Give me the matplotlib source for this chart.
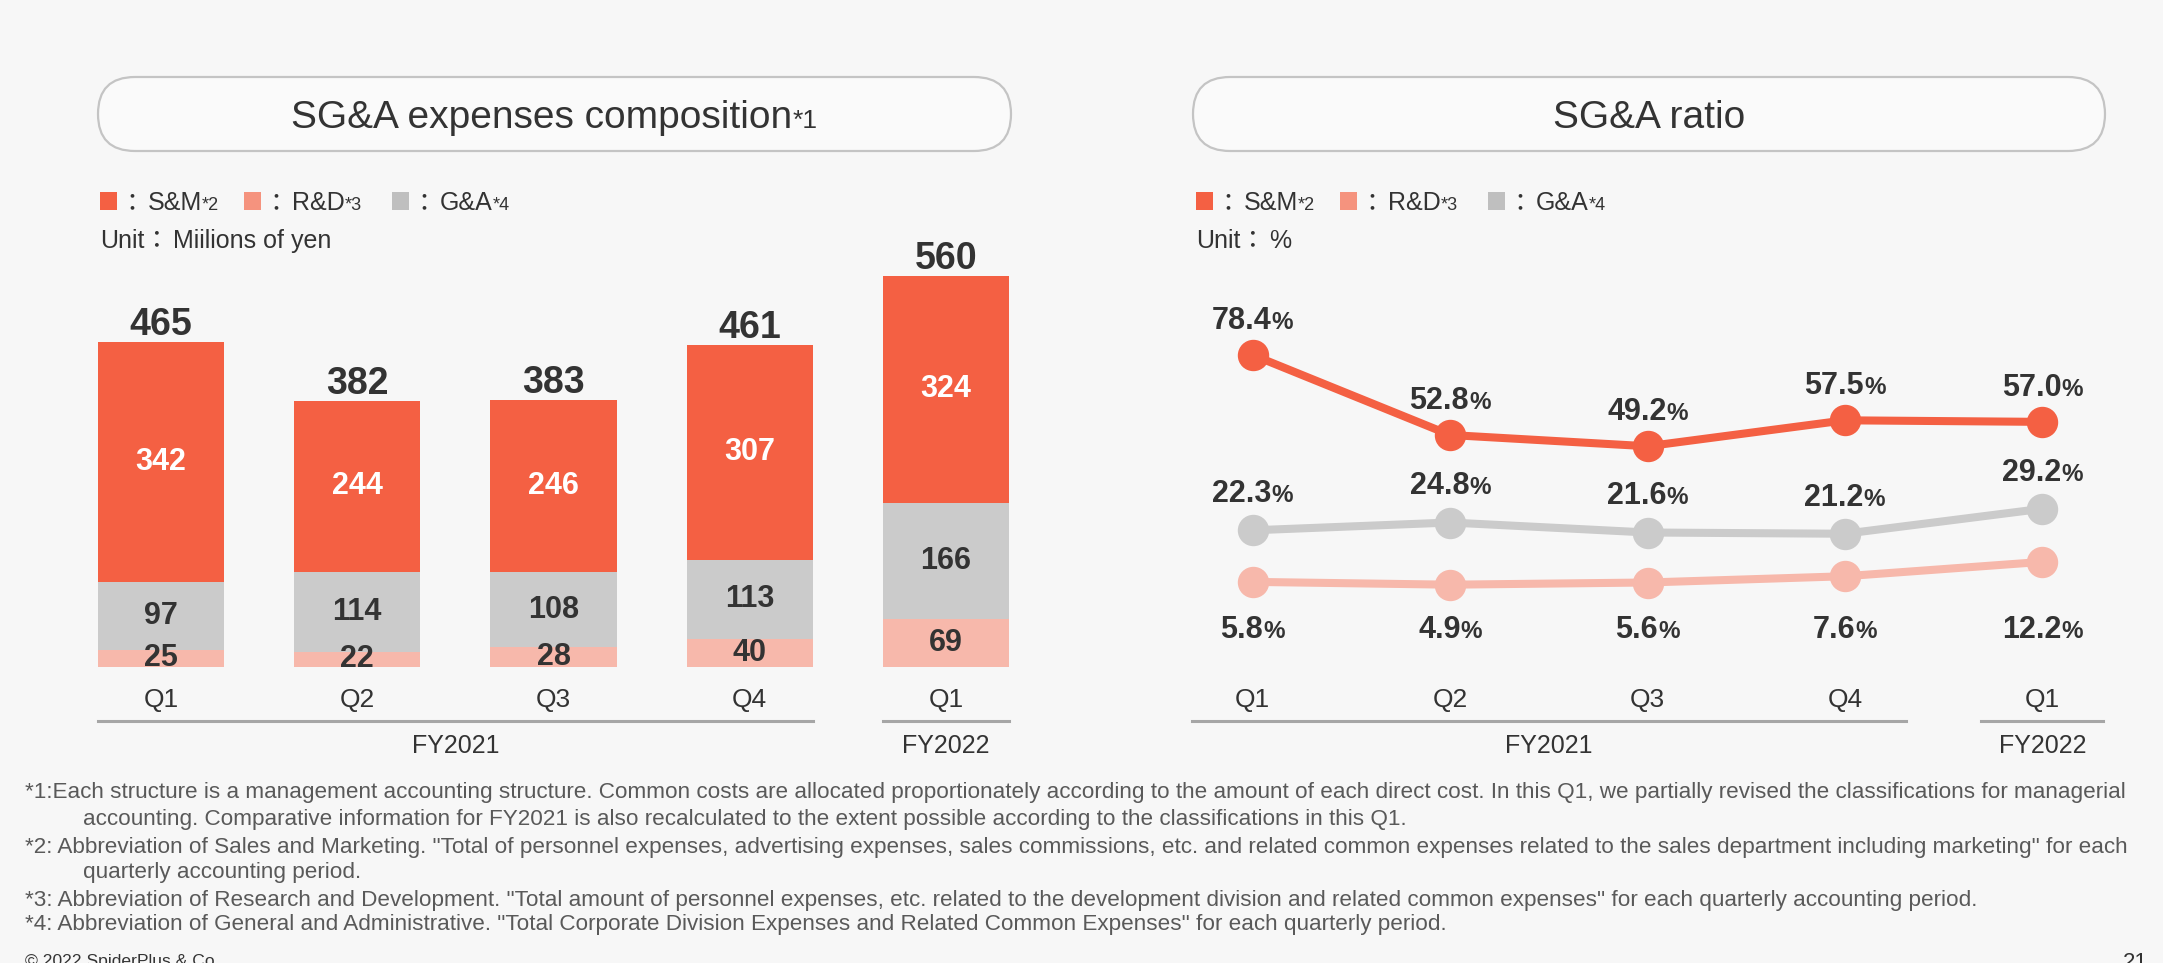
import matplotlib
matplotlib.use('Agg')
import matplotlib.pyplot as plt
from matplotlib.patches import FancyBboxPatch, Rectangle
from matplotlib.lines import Line2D
from matplotlib.transforms import ScaledTranslation, blended_transform_factory

# ---- data ----
quarters = ['Q1', 'Q2', 'Q3', 'Q4', 'Q1']
fiscal_years = ['FY2021', 'FY2022']
fy_spans = [(0, 3), (4, 4)]
sm_cost = [342, 244, 246, 307, 324]
ga_cost = [97, 114, 108, 113, 166]
rd_cost = [25, 22, 28, 40, 69]
total_cost = [465, 382, 383, 461, 560]
sm_ratio = [78.4, 52.8, 49.2, 57.5, 57.0]
ga_ratio = [22.3, 24.8, 21.6, 21.2, 29.2]
rd_ratio = [5.8, 4.9, 5.6, 7.6, 12.2]
legend_items = [('S&M', '*2'), ('R&D', '*3'), ('G&A', '*4')]
footnotes = [
    (25, '*1:Each structure is a management accounting structure. Common costs are allocated proportionately according to the amount of each direct cost. In this Q1, we partially revised the classifications for managerial'),
    (83, 'accounting. Comparative information for FY2021 is also recalculated to the extent possible according to the classifications in this Q1.'),
    (25, '*2: Abbreviation of Sales and Marketing. "Total of personnel expenses, advertising expenses, sales commissions, etc. and related common expenses related to the sales department including marketing" for each'),
    (83, 'quarterly accounting period.'),
    (25, '*3: Abbreviation of Research and Development. "Total amount of personnel expenses, etc. related to the development division and related common expenses" for each quarterly accounting period.'),
    (25, '*4: Abbreviation of General and Administrative. "Total Corporate Division Expenses and Related Common Expenses" for each quarterly period.'),
]

W, H, DPI = 2163, 963, 100
BG = '#f7f7f7'
ORANGE = '#f46043'
PINK = '#f7b8ab'
PINK_KEY = '#f5937e'
GRAY = '#cbcbcb'
GRAY_KEY = '#bfbfbf'
DARK = '#333333'
plt.rcParams['font.family'] = ['Liberation Sans', 'Noto Sans CJK JP', 'DejaVu Sans']

fig = plt.figure(figsize=(W / DPI, H / DPI), dpi=DPI, facecolor=BG)
renderer = fig.canvas.get_renderer()


def fx(x):
    return x / W


def fy(y):  # pixels from top -> figure fraction
    return 1 - y / H


def rich(x, y, parts, transform, ha='center', dy=0):
    objs = [fig.text(x, y, s, transform=transform, ha='left', va='baseline', **kw) for s, kw in parts]
    widths = [t.get_window_extent(renderer).width for t in objs]
    off = {'left': 0, 'center': -sum(widths) / 2, 'right': -sum(widths)}[ha]
    for t, w in zip(objs, widths):
        t.set_transform(transform + ScaledTranslation(off / DPI, dy / DPI, fig.dpi_scale_trans))
        off += w
    return objs


def title_box(x0, x1, y0, y1, parts):
    h = (y1 - y0) / DPI
    box = FancyBboxPatch((x0 / DPI, (H - y1) / DPI), (x1 - x0) / DPI, h,
                         boxstyle='round,pad=0,rounding_size=%f' % (h / 2),
                         transform=fig.dpi_scale_trans, facecolor='#fafafa',
                         edgecolor='#c4c4c4', lw=1.6)
    fig.add_artist(box)
    rich(fx((x0 + x1) / 2), fy(128), parts, fig.transFigure)


def legend(x_list, unit):
    gap = (' ', dict(size=10))
    for (name, mark), x, col in zip(legend_items, x_list, [ORANGE, PINK_KEY, GRAY_KEY]):
        fig.add_artist(Rectangle((fx(x), fy(210)), 17 / W, 18 / H, transform=fig.transFigure,
                                 facecolor=col, edgecolor='none'))
        rich(fx(x + 19), fy(210), [('：', dict(size=18, color=DARK)), gap,
                                   (name, dict(size=18, color=DARK)),
                                   (mark, dict(size=13, color=DARK))],
             fig.transFigure, ha='left')
    rich(fx(x_list[0]), fy(248), [('Unit：', dict(size=18, color=DARK)), gap,
                                  (unit, dict(size=18, color=DARK))],
         fig.transFigure, ha='left')


def add_ax(left, right, bottom_px, ylim, ppu):
    height = (ylim[1] - ylim[0]) * ppu
    ax = fig.add_axes([fx(left), fy(bottom_px), (right - left) / W, height / H])
    ax.set_xlim(-0.5, 4.5)
    ax.set_ylim(*ylim)
    ax.axis('off')
    return ax


def groups(ax, half):
    tr = blended_transform_factory(ax.transData, fig.transFigure)
    for i, q in enumerate(quarters):
        ax.text(i, fy(700), q, transform=tr, ha='center', va='center', size=19, color=DARK)
    for name, (a, b) in zip(fiscal_years, fy_spans):
        fig.add_artist(Line2D([a - half, b + half], [fy(721), fy(721)], transform=tr,
                              color='#a6a6a6', lw=2.2))
        ax.text((a + b) / 2, fy(746), name, transform=tr, ha='center', va='center',
                size=18, color=DARK)


# ---- left: SG&A expenses composition ----
title_box(98, 1011, 77, 151, [('SG&A expenses composition', dict(size=28, color=DARK)),
                              ('*1', dict(size=19, color=DARK))])
legend([100, 244, 392], 'Miilions of yen')

ax1 = add_ax(63, 1044, 667, (0, 620), 0.7)
x = list(range(len(quarters)))
bw = 0.643
bot2 = rd_cost
bot3 = [a + b for a, b in zip(rd_cost, ga_cost)]
ax1.bar(x, rd_cost, bw, color=PINK)
ax1.bar(x, ga_cost, bw, bottom=bot2, color=GRAY)
ax1.bar(x, sm_cost, bw, bottom=bot3, color=ORANGE)
for i in x:
    top = bot3[i] + sm_cost[i]
    ax1.annotate(str(total_cost[i]), (i, top), xytext=(0, 7), textcoords='offset pixels',
                 ha='center', va='baseline', size=27, weight='bold', color=DARK)
    ax1.text(i, bot3[i] + sm_cost[i] / 2, str(sm_cost[i]), ha='center', va='center',
             size=22, weight='bold', color='white')
    ax1.text(i, bot2[i] + ga_cost[i] / 2, str(ga_cost[i]), ha='center', va='center',
             size=22, weight='bold', color=DARK)
    ax1.text(i, rd_cost[i] / 2, str(rd_cost[i]), ha='center', va='center',
             size=22, weight='bold', color=DARK)
groups(ax1, bw / 2)

# ---- right: SG&A ratio ----
title_box(1193, 2105, 77, 151, [('SG&A ratio', dict(size=28, color=DARK))])
legend([1196, 1340, 1488], '%')

ax2 = add_ax(1154, 2141, 600, (0, 90), 3.125)
ax2.plot(x, rd_ratio, color=PINK, lw=5.8, marker='o', ms=21.6, clip_on=False, zorder=2)
ax2.plot(x, ga_ratio, color=GRAY, lw=5.8, marker='o', ms=21.6, clip_on=False, zorder=2)
ax2.plot(x, sm_ratio, color=ORANGE, lw=5.8, marker='o', ms=21.6, clip_on=False, zorder=3)
lab_tr = blended_transform_factory(ax2.transData, fig.transFigure)


def pct(v):
    return [('%.1f' % v, dict(size=22, weight='bold', color=DARK)),
            ('%', dict(size=17.5, weight='bold', color=DARK))]


for i in x:
    rich(i, sm_ratio[i], pct(sm_ratio[i]), ax2.transData, dy=26)
    rich(i, ga_ratio[i], pct(ga_ratio[i]), ax2.transData, dy=28)
    rich(i, fy(638), pct(rd_ratio[i]), lab_tr)
groups(ax2, 0.31)

# ---- footnotes ----
for (x0, line), y in zip(footnotes, [792, 819, 847, 872, 900, 924]):
    fig.text(fx(x0), fy(y), line, size=16.2, color='#595959', va='center')
fig.text(fx(25), fy(954), '© 2022 SpiderPlus & Co.', size=12.6, color=DARK, va='top')
fig.text(fx(2148), fy(952), '21', size=16, color=DARK, va='top', ha='right')

fig.savefig('out.png', dpi=DPI, facecolor=BG)
